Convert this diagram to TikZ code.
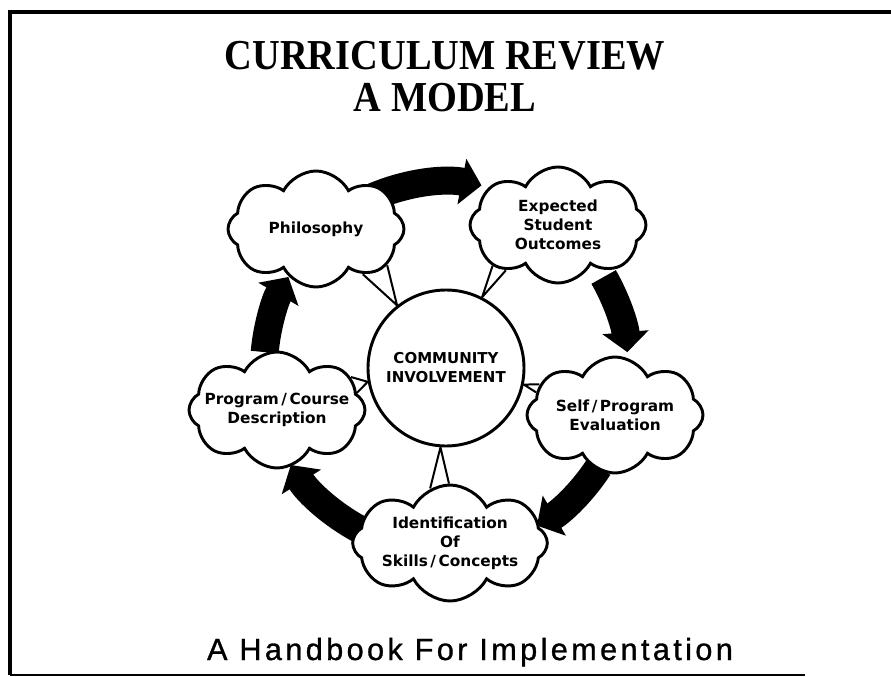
\documentclass[tikz,border=0pt]{standalone}
\usepackage{fontspec}
\setmainfont{Liberation Serif}
\newfontfamily\labelfont{DejaVu Sans}
\newfontfamily\handbookfont[LetterSpace=11,FakeBold=1]{Liberation Sans}
\usetikzlibrary{shapes.symbols,arrows.meta,calc,backgrounds}

\tikzset{
  idea/.style={cloud,cloud puffs=8,cloud puff arc=125,cloud ignores aspect,
    draw,line width=2.2pt,fill=white,minimum width=132pt,minimum height=87pt,
    inner sep=-14pt,align=center,
    font=\labelfont\bfseries\fontsize{11.5}{14.25}\selectfont},
  hub/.style={circle,draw,line width=2.2pt,fill=white,minimum size=117pt,
    inner sep=0pt,align=center,
    font=\labelfont\bfseries\fontsize{11.25}{14.25}\selectfont},
  spoke/.style={line width=1.5pt},
  turn/.style={line width=21pt,-{Triangle[width=34pt,length=15pt]}},
  heading/.style={anchor=base,font=\bfseries\fontsize{32}{36}\selectfont},
}

\begin{document}
\begin{tikzpicture}[x=0.75pt,y=0.75pt]
\useasboundingbox (0,0) rectangle (891,-677);
\draw[line width=3pt] (891,-12) -- (10,-12) -- (10,-675);
\draw[line width=2pt] (10,-675) -- (805,-675);

\node[heading] (title) at (445,-70) {\scalebox{0.9}[1]{CURRICULUM REVIEW}};
\node[heading] (subtitle) at (445,-112) {\scalebox{0.9}[1]{A MODEL}};

\node[hub] (ci) at (446,-368) {COMMUNITY\\INVOLVEMENT};
\node[idea,shape border rotate=12] (phil) at (316,-229) {Philosophy};
\node[idea,shape border rotate=-6] (goals) at (558,-225) {Expected\\Student\\Outcomes};
\node[idea,shape border rotate=-10] (evalu) at (615,-415) {Self\,/\,Program\\Evaluation};
\node[idea,minimum width=146pt,shape border rotate=5] (skills) at (450,-543) {Identification\\Of\\Skills\,/\,Concepts};
\node[idea,shape border rotate=-15] (course) at (277,-410) {Program\,/\,Course\\Description};

\node[anchor=base,font=\handbookfont\fontsize{23}{26}\selectfont] (handbook) at (470,-660) {A Handbook For Implementation};

\begin{scope}[on background layer]
  \draw[spoke] (phil.-44) -- (ci.128) -- (phil.-27);
  \draw[spoke] (goals.212) -- (ci.63) -- (goals.221);
  \draw[spoke] (evalu.158) -- (ci.-12) -- (evalu.164);
  \draw[spoke] (skills.110) -- (ci.-94) -- (skills.91);
  \draw[spoke] (course.24) -- (ci.190) -- (course.12);

  \draw[turn] ($(ci.center)+(115:186)$) arc[start angle=115,end angle=79,radius=186];
  \draw[turn] ($(ci.center)+(30:182)$) arc[start angle=30,end angle=5,radius=182];
  \draw[turn] ($(ci.center)+(-33:182)$) arc[start angle=-33,end angle=-60,radius=182];
  \draw[turn] ($(ci.center)+(-118:183)$) arc[start angle=-118,end angle=-148,radius=183];
  \draw[turn] ($(ci.center)+(175:182)$) arc[start angle=175,end angle=150,radius=182];
\end{scope}
\end{tikzpicture}
\end{document}
